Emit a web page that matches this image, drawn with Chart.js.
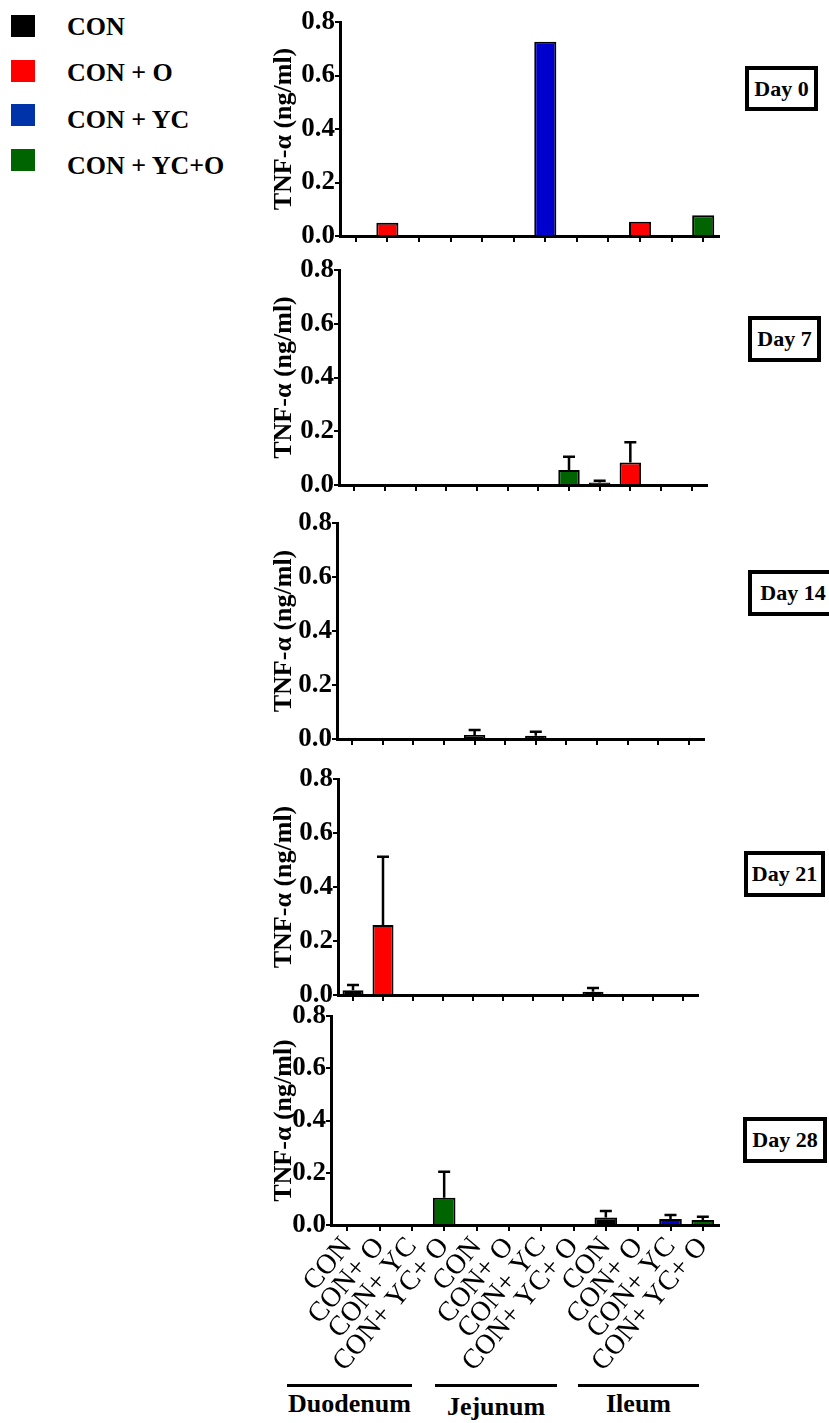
<!DOCTYPE html>
<html>
<head>
<meta charset="utf-8">
<script src="https://cdn.jsdelivr.net/npm/chart.js@4.4.1/dist/chart.umd.min.js"></script>
<style>
body { margin: 0; background: #fff; width: 829px; height: 1423px; position: relative; overflow: hidden;
       font-family: "Liberation Serif", "Times New Roman", serif; color: #000; }
canvas { position: absolute; }
.key { position: absolute; left: 11px; width: 24px; height: 22px; }
.keytxt { position: absolute; left: 67px; font-weight: bold; font-size: 26px; line-height: 26px; white-space: nowrap; }
.day { position: absolute; border: 4px solid #000; box-sizing: border-box; font-weight: bold; font-size: 22px;
       text-align: center; white-space: nowrap; }
.gline { position: absolute; height: 0; border-top: 3px solid #000; }
.gtxt { position: absolute; font-weight: bold; font-size: 26px; white-space: nowrap; transform: translateX(-50%); }
.warm { position: absolute; left: -500px; top: 0; }
</style>
</head>
<body>
<div class="warm"><b>0.8 TNF-α</b> CON+ O</div>
<script>
// ===== Data =====
const categories = ['CON', 'CON+ O', 'CON+ YC', 'CON+ YC+ O',
                    'CON', 'CON+ O', 'CON+ YC', 'CON+ YC+ O',
                    'CON', 'CON+ O', 'CON+ YC', 'CON+ YC+ O'];
const groups = ['Duodenum', 'Jejunum', 'Ileum'];
const treatments = ['CON', 'CON + O', 'CON + YC', 'CON + YC+O'];
const days = ['Day 0', 'Day 7', 'Day 14', 'Day 21', 'Day 28'];
const yTicks = [0, 0.2, 0.4, 0.6, 0.8];

const day0    = [null, 0.050, null, null, null, null, 0.726, null, null, 0.053, null, 0.078];
const day0Err = [0, 0, 0, 0, 0, 0, 0, 0, 0, 0, 0, 0];
const day7    = [null, null, null, null, null, null, null, 0.056, 0.009, 0.084, null, null];
const day7Err = [0, 0, 0, 0, 0, 0, 0, 0.049, 0.007, 0.075, 0, 0];
const day14    = [null, null, null, null, 0.015, null, 0.012, null, null, null, null, null];
const day14Err = [0, 0, 0, 0, 0.018, 0, 0.015, 0, 0, 0, 0, 0];
const day21    = [0.018, 0.259, null, null, null, null, null, null, 0.012, null, null, null];
const day21Err = [0.019, 0.253, 0, 0, 0, 0, 0, 0, 0.014, 0, 0, 0];
const day28    = [null, null, null, 0.104, null, null, null, null, 0.029, null, 0.023, 0.019];
const day28Err = [0, 0, 0, 0.100, 0, 0, 0, 0, 0.025, 0, 0.015, 0.013];

const seriesValues = [day0, day7, day14, day21, day28];
const seriesErrors = [day0Err, day7Err, day14Err, day21Err, day28Err];

// ===== Styles / layout =====
const serif = 'Liberation Serif';
Chart.defaults.font.family = serif;
const barColors = ['#000000', '#ff0000', '#0000cc', '#006400',
                   '#000000', '#ff0000', '#0000cc', '#006400',
                   '#000000', '#ff0000', '#0000cc', '#006400'];
const keyColors = ['#000000', '#ff0000', '#0033aa', '#006400'];
const canvasLeft = 265;
// plot area of each panel: y axis x, pixel of 0.8, pixel of 0.0, right end
const panels = [
    { left: 340, top: 22,   bottom: 236,  right: 719 },
    { left: 339, top: 270,  bottom: 485,  right: 707 },
    { left: 337, top: 523,  bottom: 739,  right: 704 },
    { left: 338, top: 779,  bottom: 995,  right: 698 },
    { left: 331, top: 1016, bottom: 1225, right: 719 }
];
const dayBoxes = [
    { x: 745, y: 66,   w: 73, h: 45 },
    { x: 748, y: 316,  w: 73, h: 46 },
    { x: 748, y: 570,  w: 90, h: 46 },
    { x: 744, y: 851,  w: 81, h: 46 },
    { x: 743, y: 1117, w: 84, h: 46 }
];

// ===== Error bars (upper only) =====
const errorBars = {
    id: 'errorBars',
    afterDatasetsDraw(chart) {
        const ds = chart.data.datasets[0];
        const meta = chart.getDatasetMeta(0);
        const yScale = chart.scales.y;
        const c = chart.ctx;
        c.save();
        c.strokeStyle = '#000';
        c.lineWidth = 2.5;
        ds.errors.forEach((e, i) => {
            if (!e || ds.data[i] == null) return;
            const bar = meta.data[i];
            const yTop = yScale.getPixelForValue(ds.data[i] + e);
            c.beginPath();
            c.moveTo(bar.x, bar.y);
            c.lineTo(bar.x, yTop);
            c.moveTo(bar.x - 6, yTop);
            c.lineTo(bar.x + 6, yTop);
            c.stroke();
        });
        c.restore();
    }
};

// ===== Panels =====
function makePanel(i) {
    const g = panels[i];
    const last = i === panels.length - 1;
    const xH = last ? 150 : 8;
    const padTop = 20, padBottom = last ? 4 : 12, padRight = 10;
    const w = g.right + padRight - canvasLeft;
    const h = padTop + (g.bottom - g.top) + xH + padBottom;
    const cv = document.createElement('canvas');
    cv.width = w; cv.height = h;
    cv.style.left = canvasLeft + 'px';
    cv.style.top = (g.top - padTop) + 'px';
    cv.style.width = w + 'px';
    cv.style.height = h + 'px';
    document.body.appendChild(cv);

    new Chart(cv, {
        type: 'bar',
        data: {
            labels: categories,
            datasets: [{
                data: seriesValues[i],
                errors: seriesErrors[i],
                backgroundColor: barColors,
                borderColor: '#000',
                borderWidth: 2,
                barPercentage: 0.7,
                categoryPercentage: 1
            }]
        },
        options: {
            responsive: false,
            animation: false,
            layout: { padding: { top: padTop, bottom: padBottom, left: 0, right: padRight } },
            plugins: { legend: { display: false }, tooltip: { enabled: false } },
            scales: {
                x: {
                    grid: { offset: false, drawOnChartArea: false, color: '#000', lineWidth: 2, tickLength: 6 },
                    border: { color: '#000', width: 3 },
                    ticks: { display: last, autoSkip: false, minRotation: 50, maxRotation: 50, padding: 0,
                             color: '#000', font: { family: serif, size: 28 } },
                    afterFit: s => { s.height = xH; }
                },
                y: {
                    min: 0, max: 0.8,
                    afterBuildTicks: s => { s.ticks = yTicks.map(v => ({ value: v })); },
                    grid: { drawOnChartArea: false, color: '#000', lineWidth: 2, tickLength: 5 },
                    border: { color: '#000', width: 3 },
                    ticks: { color: '#000', padding: 0, font: { family: serif, size: 27, weight: 'bold' },
                             callback: v => v.toFixed(1) },
                    title: { display: true, text: 'TNF-α (ng/ml)', color: '#000',
                             font: { family: serif, size: 26, weight: 'bold' }, padding: { top: 4, bottom: 0 } },
                    afterFit: s => { s.width = g.left - canvasLeft; }
                }
            }
        },
        plugins: [errorBars]
    });
}

function buildPanels() {
    panels.forEach((p, i) => makePanel(i));
}

// ===== Legend =====
treatments.forEach((t, i) => {
    const sq = document.createElement('div');
    sq.className = 'key';
    sq.style.top = (15 + i * 44.7) + 'px';
    sq.style.background = keyColors[i];
    document.body.appendChild(sq);
    const tx = document.createElement('div');
    tx.className = 'keytxt';
    tx.style.top = (14 + i * 46.3) + 'px';
    tx.textContent = t;
    document.body.appendChild(tx);
});

// ===== Day boxes =====
days.forEach((d, i) => {
    const b = dayBoxes[i];
    const el = document.createElement('div');
    el.className = 'day';
    el.style.left = b.x + 'px'; el.style.top = b.y + 'px';
    el.style.width = b.w + 'px'; el.style.height = b.h + 'px';
    el.style.lineHeight = (b.h - 8) + 'px';
    el.textContent = d;
    document.body.appendChild(el);
});

// ===== Group labels =====
const groupLines = [[287, 412], [435, 557], [578, 699]];
const groupTextTop = [1389, 1392, 1389];
groups.forEach((gname, i) => {
    const [x0, x1] = groupLines[i];
    const ln = document.createElement('div');
    ln.className = 'gline';
    ln.style.left = x0 + 'px'; ln.style.top = '1384px';
    ln.style.width = (x1 - x0) + 'px';
    document.body.appendChild(ln);
    const tx = document.createElement('div');
    tx.className = 'gtxt';
    tx.style.left = ((x0 + x1) / 2) + 'px';
    tx.style.top = groupTextTop[i] + 'px';
    tx.textContent = gname;
    document.body.appendChild(tx);
});

// wait for the serif faces before drawing on canvas
Promise.all([
    document.fonts.load('bold 27px "Liberation Serif"'),
    document.fonts.load('28px "Liberation Serif"')
]).then(buildPanels, buildPanels);
</script>
</body>
</html>
